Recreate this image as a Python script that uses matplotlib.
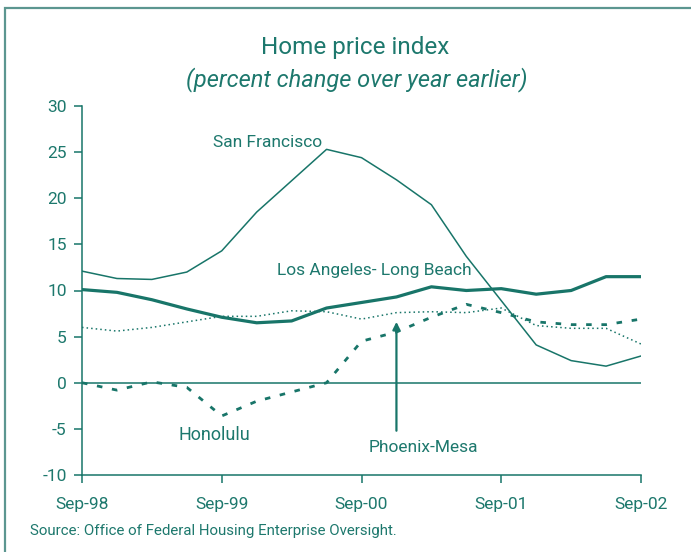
import matplotlib
matplotlib.use("Agg")
import matplotlib.pyplot as plt
from matplotlib.patches import Rectangle

plt.rcParams['font.family'] = ['Roboto', 'DejaVu Sans']
plt.rcParams['axes.unicode_minus'] = False

quarters = ["Sep-98", "Dec-98", "Mar-99", "Jun-99", "Sep-99", "Dec-99", "Mar-00", "Jun-00",
            "Sep-00", "Dec-00", "Mar-01", "Jun-01", "Sep-01", "Dec-01", "Mar-02", "Jun-02", "Sep-02"]
san_francisco = [12.1, 11.3, 11.2, 12.0, 14.3, 18.5, 21.9, 25.3, 24.4, 22.0, 19.3, 13.7, 8.9, 4.1, 2.4, 1.8, 2.9]
los_angeles = [10.1, 9.8, 9.0, 8.0, 7.1, 6.5, 6.7, 8.1, 8.7, 9.3, 10.4, 10.0, 10.2, 9.6, 10.0, 11.5, 11.5]
honolulu = [0.0, -0.8, 0.1, -0.5, -3.6, -2.0, -1.0, 0.0, 4.5, 5.5, 7.1, 8.5, 7.6, 6.6, 6.3, 6.3, 6.9]
phoenix = [6.0, 5.6, 6.0, 6.6, 7.2, 7.2, 7.8, 7.7, 6.9, 7.6, 7.7, 7.6, 8.1, 6.2, 5.9, 5.9, 4.2]
tick_labels = ["Sep-98", "Sep-99", "Sep-00", "Sep-01", "Sep-02"]
y_ticks = [-10, -5, 0, 5, 10, 15, 20, 25, 30]

C = '#187569'
TXT = '#1d786d'

fig = plt.figure(figsize=(6.91, 5.52), dpi=100)
W, H = 691, 552
ax = fig.add_axes([82 / W, 1 - 475 / H, (641 - 82) / W, (475 - 106) / H])

x = list(range(len(quarters)))
ax.plot(x, san_francisco, color=C, lw=1.1)
ax.plot(x, los_angeles, color=C, lw=2.3)
ax.plot(x, honolulu, color=C, lw=2.0, linestyle=(0, (2, 3.5)))
ax.plot(x, phoenix, color=C, lw=1.1, linestyle=(0, (1, 2)))
ax.axhline(0, color=C, lw=1.1)

ax.set_xlim(0, 16)
ax.set_ylim(-10, 30)
ax.set_yticks(y_ticks)
ax.set_xticks([0, 4, 8, 12, 16])
ax.set_xticklabels(tick_labels)
for s in ['top', 'right']:
    ax.spines[s].set_visible(False)
for s in ['left', 'bottom']:
    ax.spines[s].set_color(C)
    ax.spines[s].set_linewidth(1.1)
ax.tick_params(axis='both', colors=C, labelcolor=TXT, labelsize=12.5, length=6, width=1.1)
ax.tick_params(axis='x', pad=10)
ax.tick_params(axis='y', pad=5)

ax.text(6.87, 26.0, "San Francisco", color=TXT, fontsize=12.5, ha='right', va='center')
ax.text(5.57, 12.2, "Los Angeles- Long Beach", color=TXT, fontsize=12.5, ha='left', va='center')
ax.text(2.75, -5.7, "Honolulu", color=TXT, fontsize=13, ha='left', va='center')
ax.text(8.2, -7.0, "Phoenix-Mesa", color=TXT, fontsize=12.5, ha='left', va='center')
ax.annotate("", xy=(9.0, 6.6), xytext=(9.0, -5.2),
            arrowprops=dict(arrowstyle='-|>', color=C, lw=1.6, mutation_scale=11, shrinkA=0, shrinkB=0))

fig.text(355 / W, 1 - 48 / H, "Home price index", color=TXT, fontsize=17.5, ha='center', va='center')
fig.text(357 / W, 1 - 80 / H, "(percent change over year earlier)", color=TXT, fontsize=17,
         ha='center', va='center', style='italic')
fig.text(30 / W, 1 - 531 / H, "Source: Office of Federal Housing Enterprise Oversight.", color=TXT,
         fontsize=10.8, ha='left', va='center')

fig.patches.append(Rectangle((5 / W, -0.1), 1.2, 1 - 8 / H + 0.1, transform=fig.transFigure,
                             fill=False, edgecolor='#5c9690', lw=1.6))

fig.savefig("out.png", dpi=100)
